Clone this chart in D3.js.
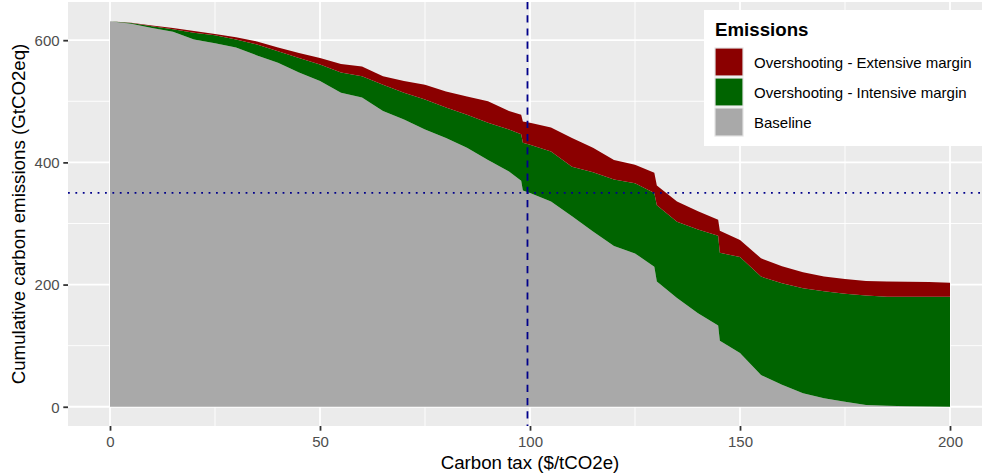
<!DOCTYPE html>
<head>
	<meta charset="utf-8">
	<title>Carbon tax and cumulative emissions</title>
	<script src="https://cdn.jsdelivr.net/npm/d3@7"></script>
	<style>
		body {
			margin: 0;
			background: white;
		}
		svg text {
			font-family: 'Liberation Sans', Arial, sans-serif;
		}
		.tick-label {
			font-size: 15px;
			fill: #4D4D4D;
		}
		.axis-title {
			font-size: 18.7px;
			fill: black;
		}
		.legend-label {
			font-size: 15px;
			fill: black;
		}
	</style>
</head>
<body>
	<script>
		// values
		var taxes = [0, 5, 10, 15, 20, 25, 30, 35, 40, 45, 50, 55, 60, 65, 70, 75, 80, 85, 90, 95,
			97.9, 98.3, 100, 105, 110, 115, 120, 125, 129.6, 130.2, 135, 140, 144.8, 145.2,
			150, 155, 160, 165, 170, 175, 180, 185, 190, 195, 200];
		var baseline = [631, 627, 620, 614, 601, 595, 588, 575, 563, 547, 533, 514, 506, 484, 470, 454, 440, 424, 404, 385,
			370, 354, 350, 336, 312, 287, 263, 251, 229, 205, 178, 153, 133, 108,
			88, 52, 36, 22, 14, 8, 3, 1.6, 1, 0.5, 0];
		var intensive = [0, 1, 3, 4, 11, 13, 13, 18, 19, 24, 27, 33, 35, 43, 44, 49, 50, 54, 61, 69,
			76, 78, 79, 82, 81, 97, 109, 115, 121, 125, 125, 137, 147, 144,
			157, 161, 166, 172, 175, 177, 179, 178.4, 179, 179.5, 180];
		var extensive = [0, 0.5, 1, 2, 3, 2, 4, 5, 6, 8, 11, 14, 16, 14, 19, 24, 26, 30, 35, 30,
			32, 35, 36, 39, 47, 40, 32, 30, 33, 32, 33, 30, 26, 36,
			28, 30, 28, 26, 24, 24, 24, 25, 24.5, 24, 23];

		var xTicks = [0, 50, 100, 150, 200];
		var yTicks = [0, 200, 400, 600];
		var xMinor = [25, 75, 125, 175];
		var yMinor = [100, 300, 500];
		var taxLine = 99.4;
		var budgetLine = 350;

		var keys = ["baseline", "intensive", "extensive"];
		var legendKeys = ["extensive", "intensive", "baseline"];
		var labels = {
			extensive: "Overshooting - Extensive margin",
			intensive: "Overshooting - Intensive margin",
			baseline: "Baseline"
		};
		var colors = {extensive: "#8B0000", intensive: "#006400", baseline: "#A9A9A9"};

		var width = 982;
		var height = 473;

		var rows = taxes.map(function(t, i) {
			return {tax: t, baseline: baseline[i], intensive: intensive[i], extensive: extensive[i]};
		});

		var svg = d3.select("body")
			.append("svg")
			.attr("width", width)
			.attr("height", height);

		var x = d3.scaleLinear().domain([-10, 210]).range([68, 992]);
		var y = d3.scaleLinear().domain([-31.5, 662.5]).range([426, 2]);

		// panel
		svg.append("rect")
			.attr("x", 68).attr("y", 2)
			.attr("width", 992 - 68).attr("height", 424)
			.attr("fill", "#EBEBEB");

		var grid = svg.append("g");
		grid.selectAll(".xminor").data(xMinor).enter().append("line")
			.attr("x1", d => x(d)).attr("x2", d => x(d))
			.attr("y1", 2).attr("y2", 426)
			.attr("stroke", "white").attr("stroke-width", 0.9);
		grid.selectAll(".yminor").data(yMinor).enter().append("line")
			.attr("y1", d => y(d)).attr("y2", d => y(d))
			.attr("x1", 68).attr("x2", 992)
			.attr("stroke", "white").attr("stroke-width", 0.9);
		grid.selectAll(".xmajor").data(xTicks).enter().append("line")
			.attr("x1", d => x(d)).attr("x2", d => x(d))
			.attr("y1", 2).attr("y2", 426)
			.attr("stroke", "white").attr("stroke-width", 1.8);
		grid.selectAll(".ymajor").data(yTicks).enter().append("line")
			.attr("y1", d => y(d)).attr("y2", d => y(d))
			.attr("x1", 68).attr("x2", 992)
			.attr("stroke", "white").attr("stroke-width", 1.8);

		// stacked areas
		var series = d3.stack().keys(keys)(rows);
		var area = d3.area()
			.x(d => x(d.data.tax))
			.y0(d => y(d[0]))
			.y1(d => y(d[1]));

		svg.append("g").selectAll("path")
			.data(series)
			.enter().append("path")
				.attr("d", area)
				.attr("fill", d => colors[d.key]);

		// reference lines
		svg.append("line")
			.attr("x1", 68).attr("x2", 992)
			.attr("y1", y(budgetLine)).attr("y2", y(budgetLine))
			.attr("stroke", "#00008B").attr("stroke-width", 1.8)
			.attr("stroke-dasharray", "1.8,5.6");
		svg.append("line")
			.attr("x1", x(taxLine)).attr("x2", x(taxLine))
			.attr("y1", 2).attr("y2", 426)
			.attr("stroke", "#00008B").attr("stroke-width", 1.8)
			.attr("stroke-dasharray", "7.2,6");

		// axes
		var xAxis = d3.axisBottom(x).tickValues(xTicks).tickSize(4.7).tickPadding(3.7);
		var gx = svg.append("g").attr("transform", "translate(0,426)").call(xAxis);
		var yAxis = d3.axisLeft(y).tickValues(yTicks).tickSize(4.7).tickPadding(3.7);
		var gy = svg.append("g").attr("transform", "translate(68,0)").call(yAxis);
		[gx, gy].forEach(function(g) {
			g.select(".domain").remove();
			g.selectAll(".tick line").attr("stroke", "#333333").attr("stroke-width", 1.8);
			g.selectAll(".tick text")
				.attr("class", "tick-label")
				.attr("fill", "#4D4D4D")
				.style("font-size", "15px");
		});
		gx.selectAll(".tick text").attr("dy", null).attr("y", 20.7);
		gy.selectAll(".tick text").attr("dy", "0.36em");

		svg.append("text")
			.attr("class", "axis-title")
			.attr("x", 530).attr("y", 468.5)
			.attr("text-anchor", "middle")
			.text("Carbon tax ($/tCO2e)");
		svg.append("text")
			.attr("class", "axis-title")
			.attr("transform", "translate(25,214) rotate(-90)")
			.attr("text-anchor", "middle")
			.text("Cumulative carbon emissions (GtCO2eq)");

		// legend
		var legend = svg.append("g");
		legend.append("rect")
			.attr("x", 704).attr("y", 10)
			.attr("width", 290).attr("height", 136)
			.attr("fill", "white");
		legend.append("text")
			.attr("x", 715).attr("y", 36)
			.style("font-size", "18.7px")
			.style("font-weight", "bold")
			.text("Emissions");
		var items = legend.selectAll(".item")
			.data(legendKeys)
			.enter().append("g")
				.attr("transform", (d, i) => "translate(715," + (48 + i * 30) + ")");
		items.append("rect")
			.attr("width", 28).attr("height", 28)
			.attr("fill", d => colors[d])
			.attr("stroke", "#E3E3E3").attr("stroke-width", 1.2);
		items.append("text")
			.attr("class", "legend-label")
			.attr("x", 39).attr("y", 19.5)
			.text(d => labels[d]);
	</script>
</body>
